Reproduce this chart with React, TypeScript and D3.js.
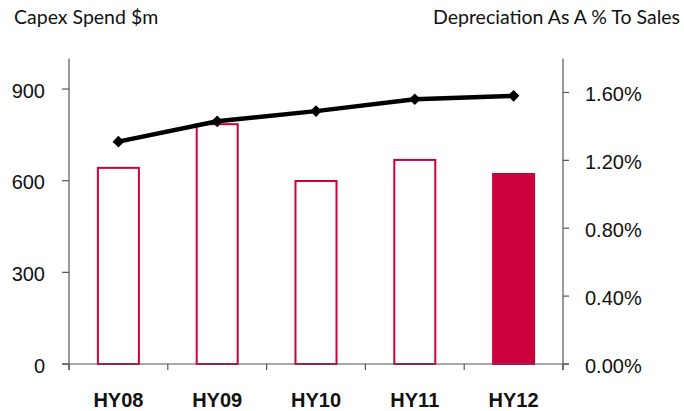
import React from "react";
import * as d3 from "d3";

// Half-year periods
const categories = ["HY08", "HY09", "HY10", "HY11", "HY12"];
// Capex spend, $m (left axis)
const capex = [642, 785, 599, 668, 622];
// Depreciation as a % of sales (right axis), in percent
const deprPct = [1.31, 1.43, 1.49, 1.56, 1.58];
// Axis ticks
const leftTicks = [0, 300, 600, 900];
const rightTicks = [0, 0.4, 0.8, 1.2, 1.6];

const W = 684;
const H = 411;
const plotLeft = 69;
const plotRight = 563;
const plotTop = 58.5;
const plotBottom = 364;

const RED = "#cc003d";
const AXIS = "#555555";
const NUM_FONT = "'Liberation Sans', Arial, sans-serif";
const TITLE_FONT = "Lato, 'Open Sans', sans-serif";

export default function App() {
  const xBand = d3.scaleBand<string>().domain(categories).range([plotLeft, plotRight]).padding(0);
  const xBar = d3
    .scaleBand<string>()
    .domain(categories)
    .range([plotLeft, plotRight])
    .paddingInner(0.585)
    .paddingOuter(0.2925);
  const yLeft = d3.scaleLinear().domain([0, 1000]).range([plotBottom, plotTop]);
  const yRight = d3.scaleLinear().domain([0, 1.8]).range([plotBottom, plotTop]);

  const center = (c: string) => (xBand(c) ?? 0) + xBand.bandwidth() / 2;

  const linePath = d3
    .line<number>()
    .x((_, i) => center(categories[i]))
    .y((d) => yRight(d))(deprPct);

  const diamond = d3.symbol(d3.symbolSquare, 68)() as string;

  const boundaries = categories.map((c) => xBand(c) ?? 0).concat([plotRight]);

  return (
    <svg
      width={W}
      height={H}
      style={{ position: "absolute", left: 0, top: 0, background: "#fff" }}
    >
      {/* Titles */}
      <text x={14} y={24} fontFamily={TITLE_FONT} fontSize={19.5} fill="#111">
        Capex Spend $m
      </text>
      <text x={433} y={24} fontFamily={TITLE_FONT} fontSize={19.5} fill="#111">
        Depreciation As A % To Sales
      </text>

      {/* Bars */}
      {categories.map((c, i) => {
        const last = i === categories.length - 1;
        const x = xBar(c) ?? 0;
        const y = yLeft(capex[i]);
        return (
          <rect
            key={c}
            x={x}
            y={y}
            width={xBar.bandwidth()}
            height={plotBottom - y}
            fill={last ? RED : "#fff"}
            stroke={RED}
            strokeWidth={2}
          />
        );
      })}

      {/* Axes */}
      <line x1={plotLeft} x2={plotLeft} y1={plotTop} y2={plotBottom + 6} stroke={AXIS} strokeWidth={1.2} />
      <line x1={plotRight} x2={plotRight} y1={plotTop} y2={plotBottom + 6} stroke={AXIS} strokeWidth={1.2} />
      <line x1={plotLeft - 7} x2={plotRight + 6} y1={plotBottom} y2={plotBottom} stroke={AXIS} strokeWidth={1.2} />
      {boundaries.map((bx, i) => (
        <line key={"cb" + i} x1={bx} x2={bx} y1={plotBottom} y2={plotBottom + 6} stroke={AXIS} strokeWidth={1.2} />
      ))}
      {leftTicks.map((t) => (
        <g key={"l" + t}>
          <line x1={plotLeft - 7} x2={plotLeft} y1={yLeft(t)} y2={yLeft(t)} stroke={AXIS} strokeWidth={1.2} />
          <text
            x={45}
            y={yLeft(t) + 8.5}
            textAnchor="end"
            fontFamily={NUM_FONT}
            fontSize={20}
            fill="#111"
          >
            {t}
          </text>
        </g>
      ))}
      {rightTicks.map((t) => (
        <g key={"r" + t}>
          <line x1={plotRight} x2={plotRight + 6} y1={yRight(t)} y2={yRight(t)} stroke={AXIS} strokeWidth={1.2} />
          <text x={585} y={yRight(t) + 8.5} fontFamily={NUM_FONT} fontSize={20} fill="#111">
            {t.toFixed(2) + "%"}
          </text>
        </g>
      ))}

      {/* Category labels */}
      {categories.map((c) => (
        <text
          key={"c" + c}
          x={center(c)}
          y={407}
          textAnchor="middle"
          fontFamily={NUM_FONT}
          fontWeight="bold"
          fontSize={20}
          fill="#111"
        >
          {c}
        </text>
      ))}

      {/* Depreciation line */}
      <path d={linePath ?? ""} fill="none" stroke="#000" strokeWidth={4.5} strokeLinejoin="round" />
      {deprPct.map((v, i) => (
        <path
          key={"m" + i}
          d={diamond}
          transform={`translate(${center(categories[i])},${yRight(v)}) rotate(45)`}
          fill="#000"
        />
      ))}
    </svg>
  );
}
